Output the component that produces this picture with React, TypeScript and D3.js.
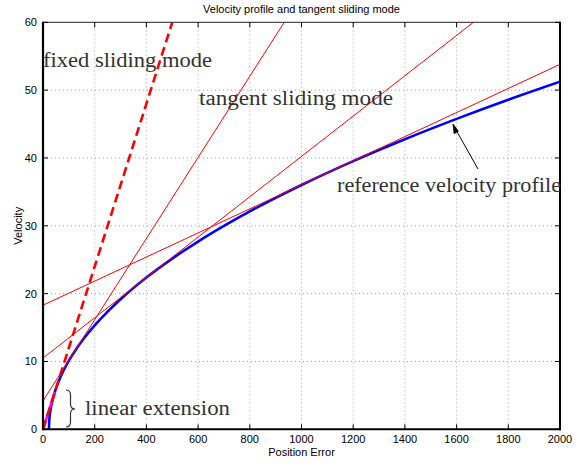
import React from "react";
import * as d3 from "d3";

const xTicks = [0, 200, 400, 600, 800, 1000, 1200, 1400, 1600, 1800, 2000];
const yTicks = [0, 10, 20, 30, 40, 50, 60];

// reference velocity profile
const profileX = [23, 24, 26, 30, 35, 46, 60, 80, 100, 130, 160, 200, 250, 300, 400, 500, 600, 700, 800, 900, 1000, 1200, 1400, 1600, 1800, 2000];
const profileV = [0, 1.15, 2.0, 3.05, 3.99, 5.53, 7.01, 8.7, 10.11, 11.92, 13.49, 15.33, 17.36, 19.18, 22.38, 25.17, 27.68, 29.98, 32.12, 34.13, 36.02, 39.54, 42.76, 45.76, 48.58, 51.24];

// tangent sliding mode lines: [x, v] end points
const tangentLines: [number, number][][] = [
  [[0, 18.3], [2000, 53.8]],
  [[0, 10.5], [1665, 60]],
  [[0, 4.2], [933, 60]],
];
// fixed sliding mode
const fixedLine: [number, number][] = [[0, 0], [500, 60]];
// linear extension
const linearExt: [number, number][] = [[0, 0], [46, 5.53]];

const W = 584, H = 466;
const L = 43, R = 560, T = 22.3, B = 429.3;

export default function App() {
  const x = d3.scaleLinear().domain([0, 2000]).range([L, R]);
  const y = d3.scaleLinear().domain([0, 60]).range([B, T]);
  const line = d3.line<[number, number]>().x(d => x(d[0])).y(d => y(d[1]));
  const curve = d3.line<number>().x((_, i) => x(profileX[i])).y(d => y(d)).curve(d3.curveMonotoneX);
  const serif = "'Liberation Serif', 'Times New Roman', serif";
  const sans = "'Liberation Sans', Arial, Helvetica, sans-serif";
  const textCol = "#333";
  return (
    <svg width={W} height={H} style={{ position: "absolute", left: 0, top: 0, background: "#fff" }}>
      <defs>
        <clipPath id="plot"><rect x={L} y={T} width={R - L} height={B - T} /></clipPath>
      </defs>
      <rect x={0} y={0} width={W} height={H} fill="#fff" />
      {/* grid */}
      {xTicks.slice(1, -1).map(t => (
        <line key={"gx" + t} x1={x(t)} x2={x(t)} y1={T} y2={B} stroke="#8a8a8a" strokeWidth={0.8} strokeDasharray="1,3" />
      ))}
      {yTicks.slice(1, -1).map(t => (
        <line key={"gy" + t} x1={L} x2={R} y1={y(t)} y2={y(t)} stroke="#8a8a8a" strokeWidth={0.8} strokeDasharray="1,3" />
      ))}
      <g clipPath="url(#plot)">
        <path d={curve(profileV) || ""} fill="none" stroke="#0000ff" strokeWidth={2.6} />
        <path d={line(linearExt) || ""} fill="none" stroke="#ff00ff" strokeWidth={2.6} />
        {tangentLines.map((l, i) => (
          <path key={i} d={line(l) || ""} fill="none" stroke="#ff0000" strokeWidth={1} />
        ))}
        <path d={line(fixedLine) || ""} fill="none" stroke="#ff0000" strokeWidth={2.6} strokeDasharray="9,5" />
      </g>
      {/* axes box */}
      <line x1={L} x2={R} y1={T} y2={T} stroke="#222" strokeWidth={1} />
      <line x1={L} x2={R + 1} y1={B} y2={B} stroke="#000" strokeWidth={2} />
      <line x1={L} x2={L} y1={T - 0.5} y2={B + 1} stroke="#000" strokeWidth={2.2} />
      <line x1={R} x2={R} y1={T - 0.5} y2={B + 1} stroke="#000" strokeWidth={2} />
      {xTicks.map(t => (
        <g key={"tx" + t}>
          <line x1={x(t)} x2={x(t)} y1={B} y2={B - 5} stroke="#000" strokeWidth={1} />
          <line x1={x(t)} x2={x(t)} y1={T} y2={T + 5} stroke="#000" strokeWidth={1} />
          <text x={x(t)} y={443} textAnchor="middle" fontFamily={sans} fontSize={11} fill="#000">{t}</text>
        </g>
      ))}
      {yTicks.map(t => (
        <g key={"ty" + t}>
          <line x1={L} x2={L + 5} y1={y(t)} y2={y(t)} stroke="#000" strokeWidth={1} />
          <line x1={R} x2={R - 5} y1={y(t)} y2={y(t)} stroke="#000" strokeWidth={1} />
          <text x={37} y={y(t) + 4} textAnchor="end" fontFamily={sans} fontSize={11} fill="#000">{t}</text>
        </g>
      ))}
      <text x={(L + R) / 2} y={13} textAnchor="middle" fontFamily={sans} fontSize={11} fill="#000">Velocity profile and tangent sliding mode</text>
      <text x={(L + R) / 2} y={456} textAnchor="middle" fontFamily={sans} fontSize={11} fill="#000">Position Error</text>
      <text transform={`translate(22,${(T + B) / 2}) rotate(-90)`} textAnchor="middle" fontFamily={sans} fontSize={11} fill="#000">Velocity</text>
      {/* annotations */}
      <text x={43} y={67} fontFamily={serif} fontSize={20} fill={textCol} textLength={169} lengthAdjust="spacingAndGlyphs">fixed sliding mode</text>
      <text x={199} y={105} fontFamily={serif} fontSize={20} fill={textCol} textLength={194} lengthAdjust="spacingAndGlyphs">tangent sliding mode</text>
      <text x={337} y={192} fontFamily={serif} fontSize={20} fill={textCol} textLength={224} lengthAdjust="spacingAndGlyphs">reference velocity profile</text>
      <text x={85} y={415} fontFamily={serif} fontSize={20} fill={textCol} textLength={145} lengthAdjust="spacingAndGlyphs">linear extension</text>
      <path d="M66,390 Q70.5,390 70.5,395 L70.5,404 Q70.5,409 75,409 Q70.5,409 70.5,414 L70.5,422 Q70.5,427 66,427" fill="none" stroke={textCol} strokeWidth={1.2} />
      {/* arrow */}
      <line x1={478} y1={169} x2={455.5} y2={129} stroke="#000" strokeWidth={1} />
      <path d="M453,124 L458.4,131.3 L454.1,133.7 Z" fill="#000" stroke="#000" strokeWidth={0.8} />
    </svg>
  );
}
